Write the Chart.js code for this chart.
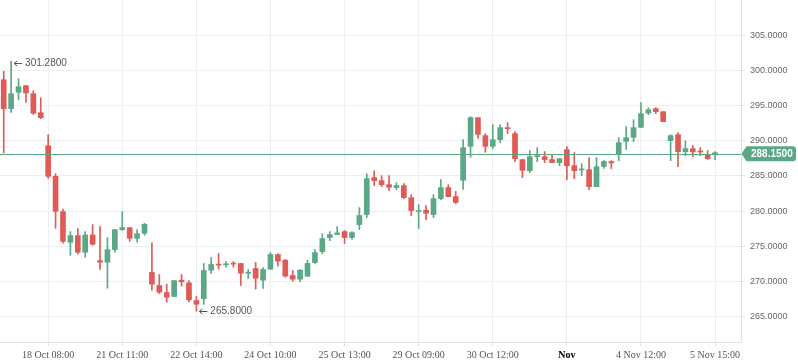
<!DOCTYPE html>
<html><head><meta charset="utf-8">
<script src="https://cdn.jsdelivr.net/npm/chart.js@4/dist/chart.umd.min.js"></script>
<style>html,body{margin:0;padding:0;background:#fff}#wrap{width:798px;height:363px}</style>
</head><body><div id="wrap"><canvas id="c" width="798" height="363"></canvas></div>
<script>
const openV = [298.67,294.56,296.88,297.83,296.69,293.99,289.30,284.94,279.93,275.57,
276.52,274.15,276.61,272.97,272.73,274.53,277.37,277.65,276.14,276.85,
271.28,269.43,268.43,267.86,270.18,269.80,267.29,267.57,271.61,272.42,
272.37,272.56,272.56,271.18,271.85,270.18,271.75,273.83,273.03,270.85,
270.33,270.74,272.69,274.25,276.24,276.67,277.09,276.24,278.09,279.51,
284.76,284.33,283.76,283.34,283.62,281.92,279.93,280.12,279.51,281.77,
283.34,282.06,284.38,289.21,293.28,290.72,289.21,290.15,291.82,291.01,
287.32,285.75,287.74,287.74,287.32,286.89,288.74,286.46,285.85,285.89,
283.48,286.35,287.05,288.15,289.90,290.49,291.91,293.94,294.56,294.13,
290.01,290.86,288.45,288.88,288.45,288.03,288.15];
const highV = [299.86,301.28,298.82,297.83,297.12,296.12,290.86,285.33,280.30,277.09,
277.51,277.09,278.08,277.80,276.23,277.37,279.93,277.65,277.37,278.27,
275.48,270.99,269.62,270.13,270.99,270.13,267.86,272.56,273.41,273.98,
272.84,272.84,272.56,271.70,272.70,271.99,274.12,273.98,273.13,271.56,
271.70,273.02,274.54,276.80,277.09,277.80,277.23,277.09,280.50,285.33,
285.75,285.04,285.04,284.05,283.90,282.34,280.92,280.78,282.34,284.47,
283.76,282.80,290.15,293.42,293.28,291.01,292.29,292.29,292.57,291.29,
287.32,288.60,289.02,288.46,288.03,287.46,289.16,288.31,286.74,287.60,
287.60,287.17,287.17,290.44,292.00,292.99,295.41,294.70,294.70,294.13,
290.86,291.15,290.01,289.30,289.02,288.60,288.45];
const lowV = [288.26,294.04,295.84,295.46,293.75,293.14,284.66,277.56,275.43,273.73,
273.91,273.44,275.14,271.73,269.04,274.15,277.27,275.71,275.57,276.57,
268.77,268.29,267.06,267.86,269.34,267.10,265.80,266.77,271.13,271.75,
272.04,272.04,269.43,270.42,268.91,269.00,271.75,272.18,270.61,270.04,
269.99,270.74,272.57,273.96,275.81,276.67,275.39,275.96,277.38,279.08,
283.62,283.48,282.91,283.05,281.77,279.36,277.51,278.79,279.08,281.63,
282.06,281.08,283.10,287.65,290.34,288.36,288.88,289.73,291.01,287.03,
284.76,285.47,287.03,286.89,286.89,286.46,284.47,284.61,285.05,283.05,
283.48,286.06,286.04,287.17,288.76,289.87,291.91,293.70,293.85,292.71,
287.17,286.32,287.88,287.74,287.88,287.32,287.32];
const closeV = [294.56,296.69,297.68,296.79,293.90,293.28,284.94,279.97,275.71,276.52,
274.15,276.61,275.29,272.73,274.53,277.37,277.65,276.14,276.80,278.12,
269.62,268.48,267.77,270.13,269.95,267.39,266.77,271.56,272.42,272.32,
272.42,272.46,271.18,271.28,270.47,271.70,273.83,272.89,270.76,270.33,
271.61,272.57,274.11,276.09,276.67,276.90,276.24,276.95,279.37,284.62,
284.33,283.76,283.39,283.62,281.92,280.07,279.98,279.69,281.77,283.34,
282.06,281.23,289.02,293.28,290.91,289.21,290.15,291.86,291.72,287.46,
285.80,287.74,287.89,287.32,286.89,287.46,286.46,285.75,285.89,283.48,
286.32,287.05,286.85,289.73,290.44,291.86,293.85,294.41,294.13,292.71,
290.72,288.45,288.88,288.45,288.40,287.46,288.15];
const tickIndex = [6,16,26,36,46,56,66,76,86,96];
const tickLabels = ['18 Oct 08:00','21 Oct 11:00','22 Oct 14:00','24 Oct 10:00','25 Oct 13:00','29 Oct 09:00','30 Oct 12:00','Nov','4 Nov 12:00','5 Nov 15:00'];
const yTicks = [265,270,275,280,285,290,295,300,305];
const slotCount = 100;

const categories = Array.from({length: slotCount}, (_, i) => {
  const k = tickIndex.indexOf(i); return k >= 0 ? tickLabels[k] : '';
});
const GREEN = '#5ba886', RED = '#e05a56';
const colors = closeV.map((c, i) => c >= openV[i] ? GREEN : RED);

const overlay = {
  id: 'overlay',
  afterDatasetsDraw(chart) {
    const {ctx, chartArea: a, scales: {x, y}} = chart;
    const last = closeV[closeV.length - 1];
    const py = Math.round(y.getPixelForValue(last)) + 0.5;
    ctx.save();
    ctx.strokeStyle = GREEN; ctx.lineWidth = 1;
    ctx.beginPath(); ctx.moveTo(a.left, py); ctx.lineTo(a.right, py); ctx.stroke();
    let hi = 0, lo = 0;
    highV.forEach((v, i) => { if (v > highV[hi]) hi = i; });
    lowV.forEach((v, i) => { if (v < lowV[lo]) lo = i; });
    const mark = (i, v, dy) => {
      const px = x.getPixelForValue(i) + 3;
      const yy = Math.round(y.getPixelForValue(v) + dy) + 0.5;
      ctx.strokeStyle = '#555'; ctx.lineWidth = 1;
      ctx.beginPath();
      ctx.moveTo(px, yy); ctx.lineTo(px + 8, yy);
      ctx.moveTo(px + 3, yy - 2.5); ctx.lineTo(px, yy); ctx.lineTo(px + 3, yy + 2.5);
      ctx.stroke();
      ctx.fillStyle = '#555';
      ctx.font = '10px "Liberation Sans", Arial, sans-serif';
      ctx.textBaseline = 'middle'; ctx.textAlign = 'left';
      ctx.fillText(v.toFixed(4), px + 11, yy);
    };
    mark(hi, highV[hi], 1.5);
    mark(lo, lowV[lo], -0.5);
    ctx.restore();
  },
  afterDraw(chart) {
    const {ctx, chartArea: a, scales: {y}} = chart;
    const last = closeV[closeV.length - 1];
    const py = y.getPixelForValue(last);
    const l = a.right + 0.5, r = 796, t = py - 7.5, b = py + 7.5, rad = 3;
    ctx.save();
    ctx.fillStyle = GREEN;
    ctx.beginPath();
    ctx.moveTo(l, py);
    ctx.lineTo(l + 5, t);
    ctx.lineTo(r - rad, t); ctx.quadraticCurveTo(r, t, r, t + rad);
    ctx.lineTo(r, b - rad); ctx.quadraticCurveTo(r, b, r - rad, b);
    ctx.lineTo(l + 5, b);
    ctx.closePath(); ctx.fill();
    ctx.fillStyle = '#fff';
    ctx.font = 'bold 10px "Liberation Sans", Arial, sans-serif';
    ctx.textBaseline = 'middle'; ctx.textAlign = 'left';
    ctx.fillText(last.toFixed(4), l + 9.5, py + 0.5);
    ctx.restore();
  }
};

new Chart(document.getElementById('c'), {
  type: 'bar',
  data: {
    labels: categories,
    datasets: [
      { label: 'wick', data: lowV.map((l, i) => [l, highV[i]]), backgroundColor: colors,
        barThickness: 1, grouped: false, order: 2 },
      { label: 'body', data: openV.map((o, i) => [o, closeV[i]]), backgroundColor: colors,
        barThickness: 5, grouped: false, minBarLength: 1, order: 1 }
    ]
  },
  options: {
    responsive: false, animation: false,
    layout: { padding: 0 },
    plugins: { legend: { display: false }, tooltip: { enabled: false } },
    scales: {
      x: {
        offset: true,
        grid: { offset: false, color: '#eceef2', tickLength: 4, tickColor: '#dde0e6' },
        border: { color: '#dde0e6' },
        afterBuildTicks: s => { s.ticks = tickIndex.map(v => ({ value: v })); },
        afterFit: s => { s.height = 21; s.paddingLeft = 0; s.paddingRight = 0; },
        ticks: {
          autoSkip: false, maxRotation: 0, padding: 3,
          callback: v => categories[v],
          color: c => (tickLabels[c.index] === 'Nov' ? '#000' : '#555'),
          font: c => ({ family: '"Liberation Serif", "Times New Roman", serif', size: 10,
                        weight: tickLabels[c.index] === 'Nov' ? 'bold' : 'normal' })
        }
      },
      y: {
        position: 'right', min: 261.4, max: 310,
        grid: { color: '#eceef2', tickLength: 4, tickColor: '#dde0e6' },
        border: { color: '#dde0e6' },
        afterBuildTicks: s => { s.ticks = yTicks.map(v => ({ value: v })); },
        afterFit: s => { s.width = 57; s.paddingTop = 0; s.paddingBottom = 0; },
        ticks: {
          padding: 5, color: '#666',
          font: { family: '"Liberation Sans", Arial, sans-serif', size: 9 },
          callback: v => Number(v).toFixed(4)
        }
      }
    }
  },
  plugins: [overlay]
});
</script></body></html>
